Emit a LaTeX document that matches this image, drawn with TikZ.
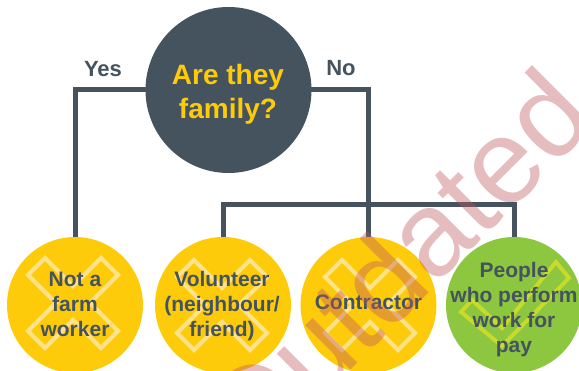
\documentclass[tikz,border=0pt]{standalone}
\usepackage{fontspec}
\setmainfont{Liberation Sans}
\usetikzlibrary{backgrounds}
\definecolor{slate}{RGB}{68,83,94}
\definecolor{gold}{RGB}{254,203,10}
\definecolor{leaf}{RGB}{141,198,63}
\definecolor{xline}{RGB}{255,226,140}
\definecolor{chk}{RGB}{200,218,43}
\definecolor{wm}{RGB}{190,90,95}
\begin{document}
\begin{tikzpicture}[x=1pt,y=-1pt,
  conn/.style={draw=slate, line width=5pt},
  bigq/.style={circle, fill=slate, minimum size=166pt, inner sep=0pt},
  item/.style={circle, minimum size=136pt, inner sep=0pt},
  lbl/.style={text=slate, font=\bfseries\fontsize{21}{25}\selectfont, align=center, inner sep=0pt},
  yn/.style={anchor=base, text=slate, font=\bfseries\fontsize{22}{26}\selectfont, inner sep=0pt},
  xmarkline/.style={draw=xline, line width=4pt, line join=miter},
  chkline/.style={draw=chk, line width=4pt, line join=miter},
  xmk/.pic={\draw[xmarkline] (17,0) -- (45,28) -- (28,45) -- (0,17) -- (-28,45) -- (-45,28) -- (-17,0) -- (-45,-28) -- (-28,-45) -- (0,-17) -- (28,-45) -- (45,-28) -- cycle;},
  ckmk/.pic={\draw[chkline] (-53,7) -- (-42,-5) -- (-12,23) -- (42,-43) -- (55,-27) -- (-12,41) -- cycle;}
]
\useasboundingbox (0,0) rectangle (579,371);
\clip (0,0) rectangle (579,371);

\node[bigq] (q) at (228.5,90) {};
\node[item, fill=gold] (n1) at (75,305) {};
\node[item, fill=gold] (n2) at (223,305) {};
\node[item, fill=gold] (n3) at (368.5,305) {};
\node[item, fill=leaf] (n4) at (514,305) {};
\coordinate (barY) at (0,205);

\begin{pgfonlayer}{background}
\draw[conn] (q.center) -| (n1.center);
\draw[conn] (q.center) -| (n3.center);
\draw[conn] (n2.center) -- (n2.center |- barY) -| (n4.center);
\end{pgfonlayer}

\pic at (73,303) {xmk};
\pic at (222,305) {xmk};
\pic at (370,305) {xmk};
\pic at (n4.center) {ckmk};

\node[text=gold, font=\bfseries\fontsize{28}{34}\selectfont, align=center, inner sep=0pt] (qt) at (228,94) {Are they\\family?};
\node[yn] (yes) at (103,77) {Yes};
\node[yn] (no) at (341,76) {No};

\node[lbl] (t1) at (75,304) {Not a\\farm\\worker};
\node[lbl] (t2) at (222,306) {Volunteer\\(neighbour/\\friend)};
\node[lbl] (t3) at (368.5,302.5) {Contractor};
\node[lbl] (t4) at (514,310) {People\\who perform\\work for\\pay};

\node[rotate=45, text=wm, text opacity=0.4, font=\fontsize{120}{140}\selectfont, inner sep=0pt] (wmk) at (395,266) {Outdated};
\end{tikzpicture}
\end{document}
